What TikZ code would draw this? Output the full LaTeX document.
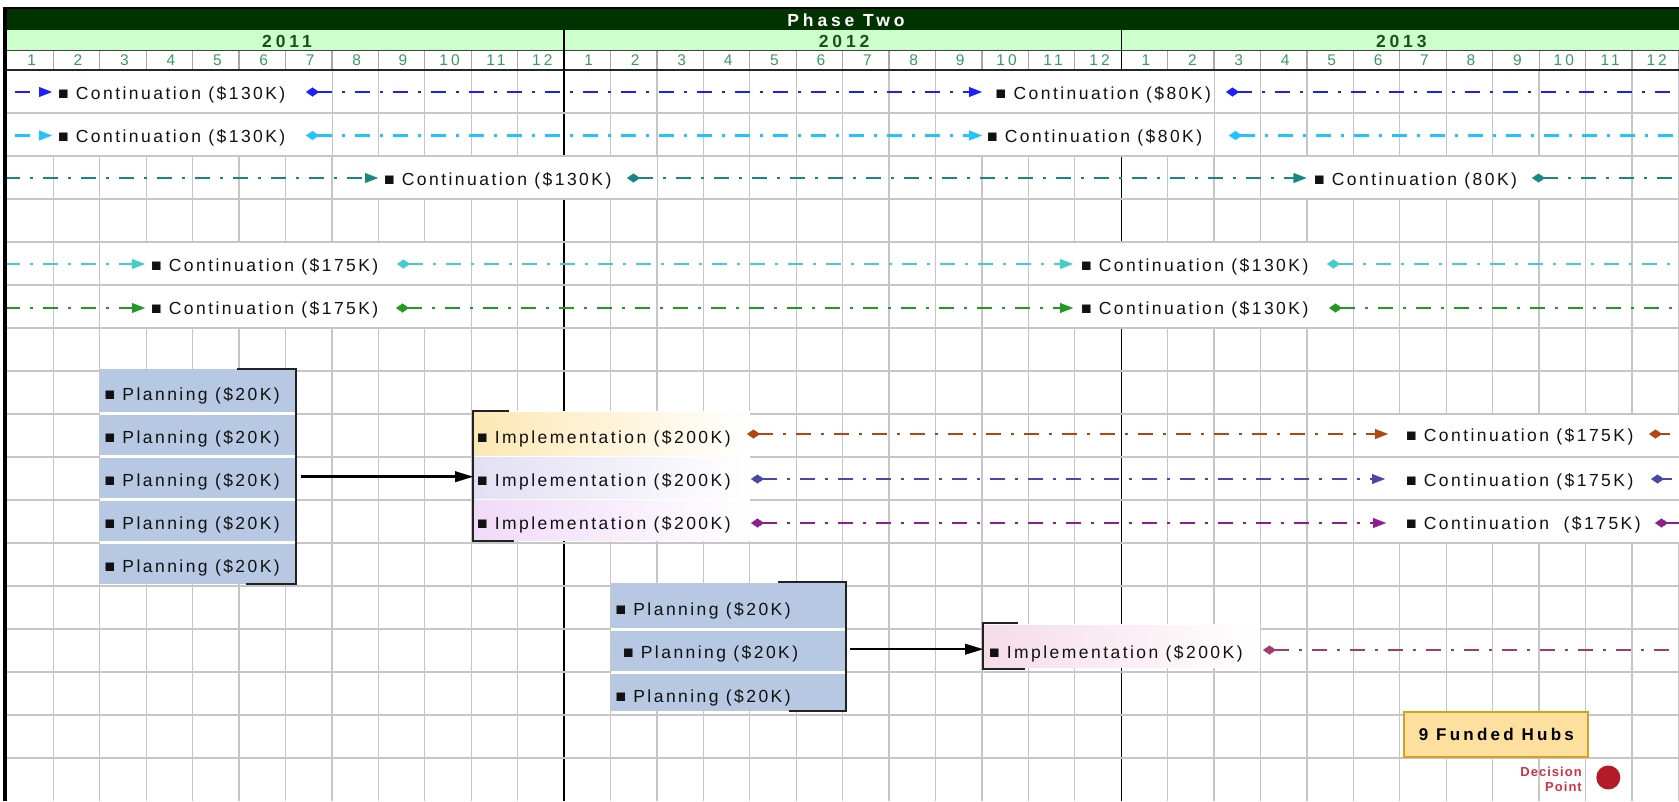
\documentclass[tikz,border=0pt]{standalone}
\usepackage{fontspec}
\setmainfont{Liberation Sans}
\newfontfamily\lblfont[LetterSpace=14]{Liberation Sans}
\newfontfamily\hdfont[LetterSpace=22]{Liberation Sans}
\newfontfamily\monfont[LetterSpace=20]{Liberation Sans}
\newfontfamily\hubfont[LetterSpace=19]{Liberation Sans}
\newfontfamily\decfont[LetterSpace=8]{Liberation Sans}
\usetikzlibrary{arrows.meta}
\definecolor{cA}{HTML}{1E1EFF}
\definecolor{cB}{HTML}{22C4FF}
\definecolor{cC}{HTML}{1A8585}
\definecolor{cD}{HTML}{45CCCC}
\definecolor{cE}{HTML}{229922}
\definecolor{cF}{HTML}{B4450F}
\definecolor{cG}{HTML}{4848A8}
\definecolor{cH}{HTML}{8E1E8E}
\definecolor{cI}{HTML}{A53A6E}
\definecolor{gridc}{HTML}{C6C6C6}
\definecolor{hgrid}{HTML}{A8A8A8}
\definecolor{band}{HTML}{003300}
\definecolor{yearbg}{HTML}{CCFFCC}
\definecolor{yeartx}{HTML}{1E501E}
\definecolor{montx}{HTML}{3A9A60}
\definecolor{planbg}{HTML}{B6C8E2}
\definecolor{hubbg}{HTML}{FDE09E}
\definecolor{hubbd}{HTML}{D6A022}
\definecolor{decred}{HTML}{CC3344}
\definecolor{dotred}{HTML}{B41A28}
\definecolor{imA}{HTML}{FDE8B4}
\definecolor{imB}{HTML}{E2DFF3}
\definecolor{imC}{HTML}{F0DAF8}
\definecolor{imD}{HTML}{F5DCE8}
\definecolor{brkc}{HTML}{222222}
\definecolor{txt}{HTML}{111111}
\tikzset{
  ctri/.tip={Triangle[length=13pt,width=10pt,line width=0.4pt]},
  cdia/.tip={Diamond[length=13pt,width=9pt,line width=0.4pt]},
  btri/.tip={Triangle[length=18pt,width=11pt,line width=0.4pt]},
  lbl/.style={anchor=base west, inner sep=0pt, text=txt, font=\lblfont\fontsize{17.5}{19}\selectfont},
  conn/.style={line width=2.4pt, dash pattern=on 15pt off 10pt on 3pt off 10pt},
  gridline/.style={draw=gridc, line width=1.3pt},
  yearline/.style={draw=black, line width=1.3pt},
  brk/.style={draw=brkc, line width=2.5pt},
  bigarrow/.style={draw=black, line width=2.5pt, -btri},
  grp/.style={inner sep=0pt, anchor=north west, draw=none},
  mon/.style={inner sep=0pt, text=montx, font=\monfont\fontsize{15.5}{16}\selectfont},
  yr/.style={inner sep=0pt, text=yeartx, font=\hdfont\bfseries\fontsize{17.5}{18}\selectfont},
}
\begin{document}
\begin{tikzpicture}[x=1pt,y=-1pt]
\useasboundingbox (0,0) rectangle (1679,801);
\fill[white] (0,0) rectangle (1679,801);
% vertical grid
\foreach \m in {2,...,37} \draw[gridline] ({6.9+46.43*(\m-1)},70) -- ({6.9+46.43*(\m-1)},801);
\draw[yearline] (564.1,30) -- (564.1,801);
\draw[yearline] (1121.2,30) -- (1121.2,801);
% white label cells
\foreach \a/\b/\k in {53.3/332.3/0, 981.3/1213.5/0, 53.3/332.3/1, 981.3/1213.5/1,
  378.3/656.7/2, 1306/1585/2, 146/424.5/4, 1074/1352.5/4, 146/424.5/5, 1074/1352.5/5,
  1399/1679/8, 1399/1679/9, 1399/1679/10}
  \fill[white] (\a,{70+43*\k+0.8}) rectangle (\b,{113+43*\k-0.8});
% horizontal grid
\foreach \k in {1,...,16} \draw[gridline] (5,{70+43*\k}) -- (1679,{70+43*\k});
% planning group 1
\fill[white] (99.8,369) rectangle (296,584);
\foreach \t/\u in {369/412, 414.5/455, 457.5/498, 500.5/541, 543.5/584}
  \fill[planbg] (99.8,\t) rectangle (296,\u);
\node[grp, minimum width=196.2pt, minimum height=215pt] (pg1) at (99.8,369) {};
\draw[brk] (237,369) -- (296,369) -- (296,584) -- (246,584);
% planning group 2
\fill[white] (610.5,583) rectangle (846,711);
\foreach \t/\u in {583/628, 630.5/671, 673.5/711}
  \fill[planbg] (610.5,\t) rectangle (846,\u);
\node[grp, minimum width=235.5pt, minimum height=132pt] (pg2) at (610.5,583) {};
\draw[brk] (778,582) -- (846,582) -- (846,711) -- (789,711);
% implementation group 1
\fill[white] (473,411) rectangle (750,541);
\shade[left color=imA, right color=white] (473,412.5) rectangle (750,455);
\shade[left color=imB, right color=white] (473,457) rectangle (750,498);
\shade[left color=imC, right color=white] (473,500) rectangle (750,540.5);
\node[grp, minimum width=277pt, minimum height=130pt] (ig1) at (473,411) {};
\draw[brk] (508.5,411) -- (473,411) -- (473,541) -- (514,541);
% implementation group 2
\fill[white] (983,624) rectangle (1260,668);
\shade[left color=imD, right color=white] (983,625) rectangle (1260,667);
\node[grp, minimum width=277pt, minimum height=46pt] (ig2) at (983,623) {};
\draw[brk] (1018,623) -- (983,623) -- (983,669) -- (1025,669);
% group arrows
\draw[bigarrow] ([xshift=5pt]pg1.east) -- (pg1.east -| ig1.west);
\draw[bigarrow] ([xshift=4pt]pg2.east) -- (pg2.east -| ig2.west);
% connector end points
\coordinate (c0a) at (15,92);   \coordinate (c0b) at (52,92);
\coordinate (c0c) at (306,92);  \coordinate (c0d) at (982,92);
\coordinate (c0e) at (1226,92); \coordinate (c0f) at (1679,92);
\coordinate (c1a) at (15,135.5);   \coordinate (c1b) at (52,135.5);
\coordinate (c1c) at (306,135.5);  \coordinate (c1d) at (982,135.5);
\coordinate (c1e) at (1229,135.5); \coordinate (c1f) at (1679,135.5);
\coordinate (c2a) at (5,178);     \coordinate (c2b) at (378,178);
\coordinate (c2c) at (627,178);   \coordinate (c2d) at (1306.5,178);
\coordinate (c2e) at (1532,178);  \coordinate (c2f) at (1679,178);
\coordinate (c4a) at (5,264);     \coordinate (c4b) at (145,264);
\coordinate (c4c) at (397,264);   \coordinate (c4d) at (1073,264);
\coordinate (c4e) at (1327,264);  \coordinate (c4f) at (1679,264);
\coordinate (c5a) at (5,308);     \coordinate (c5b) at (145,308);
\coordinate (c5c) at (396,308);   \coordinate (c5d) at (1073,308);
\coordinate (c5e) at (1329,308);  \coordinate (c5f) at (1679,308);
\coordinate (c8c) at (747,434);   \coordinate (c8d) at (1388,434);
\coordinate (c8e) at (1649,434);  \coordinate (c8f) at (1670,434);
\coordinate (c9c) at (751,479);   \coordinate (c9d) at (1385,479);
\coordinate (c9e) at (1651,479);  \coordinate (c9f) at (1672,479);
\coordinate (c10c) at (751,523);  \coordinate (c10d) at (1386,523);
\coordinate (c10e) at (1655,523); \coordinate (c10f) at (1679,523);
\coordinate (c13c) at (1263,650); \coordinate (c13f) at (1679,650);
% connectors
\draw[conn, cA, -ctri] (c0a) -- (c0b);
\draw[conn, cA, cdia-ctri] (c0c) -- (c0d);
\draw[conn, cA, cdia-] (c0e) -- (c0f);
\draw[conn, cB, -ctri] (c1a) -- (c1b);
\draw[conn, cB, cdia-ctri] (c1c) -- (c1d);
\draw[conn, cB, cdia-] (c1e) -- (c1f);
\draw[conn, cC, -ctri] (c2a) -- (c2b);
\draw[conn, cC, cdia-ctri] (c2c) -- (c2d);
\draw[conn, cC, cdia-] (c2e) -- (c2f);
\draw[conn, cD, -ctri] (c4a) -- (c4b);
\draw[conn, cD, cdia-ctri] (c4c) -- (c4d);
\draw[conn, cD, cdia-] (c4e) -- (c4f);
\draw[conn, cE, -ctri] (c5a) -- (c5b);
\draw[conn, cE, cdia-ctri] (c5c) -- (c5d);
\draw[conn, cE, cdia-] (c5e) -- (c5f);
\draw[conn, cF, cdia-ctri] (c8c) -- (c8d);
\draw[conn, cF, cdia-] (c8e) -- (c8f);
\draw[conn, cG, cdia-ctri] (c9c) -- (c9d);
\draw[conn, cG, cdia-] (c9e) -- (c9f);
\draw[conn, cH, cdia-ctri] (c10c) -- (c10d);
\draw[conn, cH, cdia-] (c10e) -- (c10f);
\draw[conn, cI, cdia-] (c13c) -- (c13f);
% labels
\node[lbl] (l0a) at (57.8,99.3) {■ Continuation (\$130K)};
\node[lbl] (l0b) at (995.5,99.3) {■ Continuation (\$80K)};
\node[lbl] (l1a) at (57.8,142.3) {■ Continuation (\$130K)};
\node[lbl] (l1b) at (986.8,142.3) {■ Continuation (\$80K)};
\node[lbl] (l2a) at (383.8,185.3) {■ Continuation (\$130K)};
\node[lbl] (l2b) at (1313.8,185.3) {■ Continuation (80K)};
\node[lbl] (l4a) at (150.8,271.3) {■ Continuation (\$175K)};
\node[lbl] (l4b) at (1080.8,271.3) {■ Continuation (\$130K)};
\node[lbl] (l5a) at (150.8,314.3) {■ Continuation (\$175K)};
\node[lbl] (l5b) at (1080.8,314.3) {■ Continuation (\$130K)};
\node[lbl] (p1) at (104.4,400) {■ Planning (\$20K)};
\node[lbl] (p2) at (104.4,443) {■ Planning (\$20K)};
\node[lbl] (p3) at (104.4,486) {■ Planning (\$20K)};
\node[lbl] (p4) at (104.4,529) {■ Planning (\$20K)};
\node[lbl] (p5) at (104.4,572) {■ Planning (\$20K)};
\node[lbl] (i1) at (476.8,443) {■ Implementation (\$200K)};
\node[lbl] (i2) at (476.8,486) {■ Implementation (\$200K)};
\node[lbl] (i3) at (476.8,529) {■ Implementation (\$200K)};
\node[lbl] (l8) at (1405.8,441) {■ Continuation (\$175K)};
\node[lbl] (l9) at (1405.8,486) {■ Continuation (\$175K)};
\node[lbl] (l10) at (1405.8,529.5) {■ Continuation\ \ (\$175K)};
\node[lbl] (p6) at (615.3,615.5) {■ Planning (\$20K)};
\node[lbl] (p7) at (622.8,658.3) {■ Planning (\$20K)};
\node[lbl] (p8) at (615.3,702.5) {■ Planning (\$20K)};
\node[lbl] (i4) at (988.8,658.3) {■ Implementation (\$200K)};
% header
\fill[band] (5,8.3) rectangle (1679,30);
\fill[yearbg] (5,30) rectangle (1679,50);
\fill[white] (5,50) rectangle (1679,70);
\foreach \m in {2,...,37} \draw[draw=hgrid, line width=1.2pt] ({6.9+46.43*(\m-1)},50) -- ({6.9+46.43*(\m-1)},70);
\draw[draw=black!75, line width=1pt] (5,50) -- (1679,50);
\draw[draw=black!85, line width=2pt] (5,70) -- (1679,70);
\draw[yearline] (564.1,30) -- (564.1,70);
\draw[yearline] (1121.2,30) -- (1121.2,70);
\node[inner sep=0pt, text=white, font=\hdfont\bfseries\fontsize{17.5}{18}\selectfont] (phase) at (846,20) {Phase Two};
\node[yr] (y2011) at (287,41) {2011};
\node[yr] (y2012) at (844.1,41) {2012};
\node[yr] (y2013) at (1401.3,41) {2013};
\foreach \m in {1,...,36} {
  \pgfmathtruncatemacro\lab{mod(\m-1,12)+1}
  \node[mon] (m\m) at ({6.9+46.43*(\m-0.5)+1.5},60.5) {\lab};
}
\draw[draw=black, line width=2pt] (3,7.5) -- (1679,7.5);
\draw[draw=black, line width=4pt] (4.7,6.5) -- (4.7,801);
% funded hubs and decision point
\node[draw=hubbd, line width=2pt, fill=hubbg, minimum width=184pt, minimum height=45pt, inner sep=0pt,
  font=\hubfont\bfseries\fontsize{17}{18}\selectfont] (hubs) at (1496.3,734.8) {\raisebox{-4pt}{9 Funded Hubs}};
\node[inner sep=0pt, anchor=east, align=right, text=decred,
  font=\decfont\bfseries\fontsize{13}{15}\selectfont] (dec) at (1582,779) {Decision\\Point};
\node[circle, fill=dotred, minimum size=24pt, inner sep=0pt] (dot) at (1608.3,777.5) {};
\end{tikzpicture}
\end{document}
